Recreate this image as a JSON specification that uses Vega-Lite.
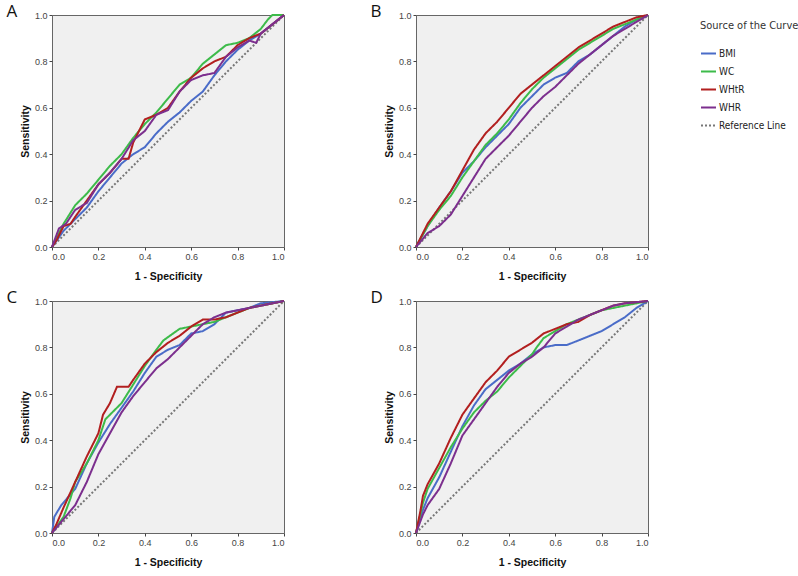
{
  "$schema": "https://vega.github.io/schema/vega-lite/v6.json",
  "padding": {"left": 5, "top": 2, "right": 0, "bottom": 2},
  "background": "white",
  "config": {
    "view": {"fill": "#f0f0f0", "stroke": "#666666", "strokeWidth": 1},
    "axis": {"grid": false, "domain": false, "tickColor": "#444", "tickSize": 3, "labelFont": "Liberation Sans", "labelFontSize": 9, "labelColor": "#444", "titleFont": "Liberation Sans", "titleFontSize": 10.5, "titleFontWeight": "bold", "titleColor": "#111"},
    "title": {"font": "Open Sans", "fontSize": 17, "fontWeight": "normal", "color": "#111", "anchor": "start", "frame": "bounds"},
    "legend": {"offset": 42, "padding": 5, "labelFont": "DejaVu Sans Condensed, Liberation Sans", "labelFontSize": 10, "labelColor": "#222", "titleFont": "DejaVu Sans Condensed, Liberation Sans", "titleFontSize": 11, "titleLimit": 200, "titleFontWeight": "normal", "titleColor": "#333", "symbolType": "stroke", "symbolSize": 225, "rowPadding": 4, "titlePadding": 14, "labelOffset": 2}
  },
  "datasets": {
    "roc": [
      {"p":"A","s":"Reference Line","x":0,"y":0},{"p":"A","s":"Reference Line","x":1,"y":1},
      {"p":"B","s":"Reference Line","x":0,"y":0},{"p":"B","s":"Reference Line","x":1,"y":1},
      {"p":"C","s":"Reference Line","x":0,"y":0},{"p":"C","s":"Reference Line","x":1,"y":1},
      {"p":"D","s":"Reference Line","x":0,"y":0},{"p":"D","s":"Reference Line","x":1,"y":1},

      {"p":"A","s":"BMI","x":0,"y":0},{"p":"A","s":"BMI","x":0.05,"y":0.07},{"p":"A","s":"BMI","x":0.1,"y":0.12},{"p":"A","s":"BMI","x":0.15,"y":0.17},{"p":"A","s":"BMI","x":0.2,"y":0.24},{"p":"A","s":"BMI","x":0.25,"y":0.3},{"p":"A","s":"BMI","x":0.3,"y":0.36},{"p":"A","s":"BMI","x":0.35,"y":0.4},{"p":"A","s":"BMI","x":0.4,"y":0.43},{"p":"A","s":"BMI","x":0.45,"y":0.49},{"p":"A","s":"BMI","x":0.5,"y":0.54},{"p":"A","s":"BMI","x":0.55,"y":0.58},{"p":"A","s":"BMI","x":0.6,"y":0.63},{"p":"A","s":"BMI","x":0.65,"y":0.67},{"p":"A","s":"BMI","x":0.7,"y":0.74},{"p":"A","s":"BMI","x":0.75,"y":0.8},{"p":"A","s":"BMI","x":0.8,"y":0.85},{"p":"A","s":"BMI","x":0.85,"y":0.89},{"p":"A","s":"BMI","x":0.9,"y":0.92},{"p":"A","s":"BMI","x":0.95,"y":0.96},{"p":"A","s":"BMI","x":1,"y":1},

      {"p":"A","s":"WC","x":0,"y":0},{"p":"A","s":"WC","x":0.05,"y":0.1},{"p":"A","s":"WC","x":0.1,"y":0.18},{"p":"A","s":"WC","x":0.15,"y":0.23},{"p":"A","s":"WC","x":0.2,"y":0.29},{"p":"A","s":"WC","x":0.25,"y":0.35},{"p":"A","s":"WC","x":0.3,"y":0.4},{"p":"A","s":"WC","x":0.35,"y":0.47},{"p":"A","s":"WC","x":0.4,"y":0.53},{"p":"A","s":"WC","x":0.45,"y":0.58},{"p":"A","s":"WC","x":0.5,"y":0.64},{"p":"A","s":"WC","x":0.55,"y":0.7},{"p":"A","s":"WC","x":0.6,"y":0.73},{"p":"A","s":"WC","x":0.65,"y":0.79},{"p":"A","s":"WC","x":0.7,"y":0.83},{"p":"A","s":"WC","x":0.75,"y":0.87},{"p":"A","s":"WC","x":0.8,"y":0.88},{"p":"A","s":"WC","x":0.85,"y":0.9},{"p":"A","s":"WC","x":0.9,"y":0.94},{"p":"A","s":"WC","x":0.93,"y":0.98},{"p":"A","s":"WC","x":0.95,"y":1},{"p":"A","s":"WC","x":1,"y":1},

      {"p":"A","s":"WHtR","x":0,"y":0},{"p":"A","s":"WHtR","x":0.02,"y":0.03},{"p":"A","s":"WHtR","x":0.05,"y":0.09},{"p":"A","s":"WHtR","x":0.08,"y":0.1},{"p":"A","s":"WHtR","x":0.1,"y":0.13},{"p":"A","s":"WHtR","x":0.15,"y":0.2},{"p":"A","s":"WHtR","x":0.2,"y":0.27},{"p":"A","s":"WHtR","x":0.25,"y":0.32},{"p":"A","s":"WHtR","x":0.3,"y":0.38},{"p":"A","s":"WHtR","x":0.33,"y":0.38},{"p":"A","s":"WHtR","x":0.35,"y":0.45},{"p":"A","s":"WHtR","x":0.4,"y":0.55},{"p":"A","s":"WHtR","x":0.45,"y":0.57},{"p":"A","s":"WHtR","x":0.5,"y":0.6},{"p":"A","s":"WHtR","x":0.55,"y":0.67},{"p":"A","s":"WHtR","x":0.6,"y":0.73},{"p":"A","s":"WHtR","x":0.65,"y":0.77},{"p":"A","s":"WHtR","x":0.7,"y":0.8},{"p":"A","s":"WHtR","x":0.75,"y":0.82},{"p":"A","s":"WHtR","x":0.8,"y":0.87},{"p":"A","s":"WHtR","x":0.85,"y":0.9},{"p":"A","s":"WHtR","x":0.9,"y":0.92},{"p":"A","s":"WHtR","x":0.95,"y":0.96},{"p":"A","s":"WHtR","x":1,"y":1},

      {"p":"A","s":"WHR","x":0,"y":0},{"p":"A","s":"WHR","x":0.03,"y":0.08},{"p":"A","s":"WHR","x":0.06,"y":0.1},{"p":"A","s":"WHR","x":0.1,"y":0.16},{"p":"A","s":"WHR","x":0.15,"y":0.19},{"p":"A","s":"WHR","x":0.2,"y":0.27},{"p":"A","s":"WHR","x":0.25,"y":0.32},{"p":"A","s":"WHR","x":0.3,"y":0.38},{"p":"A","s":"WHR","x":0.35,"y":0.46},{"p":"A","s":"WHR","x":0.4,"y":0.5},{"p":"A","s":"WHR","x":0.45,"y":0.57},{"p":"A","s":"WHR","x":0.5,"y":0.59},{"p":"A","s":"WHR","x":0.55,"y":0.67},{"p":"A","s":"WHR","x":0.6,"y":0.72},{"p":"A","s":"WHR","x":0.65,"y":0.74},{"p":"A","s":"WHR","x":0.7,"y":0.75},{"p":"A","s":"WHR","x":0.75,"y":0.82},{"p":"A","s":"WHR","x":0.8,"y":0.86},{"p":"A","s":"WHR","x":0.85,"y":0.89},{"p":"A","s":"WHR","x":0.88,"y":0.88},{"p":"A","s":"WHR","x":0.9,"y":0.92},{"p":"A","s":"WHR","x":0.95,"y":0.96},{"p":"A","s":"WHR","x":1,"y":1},

      {"p":"B","s":"BMI","x":0,"y":0},{"p":"B","s":"BMI","x":0.05,"y":0.09},{"p":"B","s":"BMI","x":0.1,"y":0.17},{"p":"B","s":"BMI","x":0.15,"y":0.24},{"p":"B","s":"BMI","x":0.2,"y":0.32},{"p":"B","s":"BMI","x":0.25,"y":0.37},{"p":"B","s":"BMI","x":0.3,"y":0.43},{"p":"B","s":"BMI","x":0.35,"y":0.48},{"p":"B","s":"BMI","x":0.4,"y":0.53},{"p":"B","s":"BMI","x":0.45,"y":0.6},{"p":"B","s":"BMI","x":0.5,"y":0.65},{"p":"B","s":"BMI","x":0.55,"y":0.7},{"p":"B","s":"BMI","x":0.6,"y":0.73},{"p":"B","s":"BMI","x":0.65,"y":0.75},{"p":"B","s":"BMI","x":0.7,"y":0.8},{"p":"B","s":"BMI","x":0.75,"y":0.83},{"p":"B","s":"BMI","x":0.8,"y":0.87},{"p":"B","s":"BMI","x":0.85,"y":0.91},{"p":"B","s":"BMI","x":0.9,"y":0.95},{"p":"B","s":"BMI","x":0.95,"y":0.98},{"p":"B","s":"BMI","x":1,"y":1},

      {"p":"B","s":"WC","x":0,"y":0},{"p":"B","s":"WC","x":0.05,"y":0.09},{"p":"B","s":"WC","x":0.1,"y":0.16},{"p":"B","s":"WC","x":0.15,"y":0.22},{"p":"B","s":"WC","x":0.2,"y":0.3},{"p":"B","s":"WC","x":0.25,"y":0.37},{"p":"B","s":"WC","x":0.3,"y":0.44},{"p":"B","s":"WC","x":0.35,"y":0.49},{"p":"B","s":"WC","x":0.4,"y":0.55},{"p":"B","s":"WC","x":0.45,"y":0.62},{"p":"B","s":"WC","x":0.5,"y":0.68},{"p":"B","s":"WC","x":0.55,"y":0.73},{"p":"B","s":"WC","x":0.6,"y":0.77},{"p":"B","s":"WC","x":0.65,"y":0.81},{"p":"B","s":"WC","x":0.7,"y":0.85},{"p":"B","s":"WC","x":0.75,"y":0.88},{"p":"B","s":"WC","x":0.8,"y":0.91},{"p":"B","s":"WC","x":0.85,"y":0.94},{"p":"B","s":"WC","x":0.9,"y":0.96},{"p":"B","s":"WC","x":0.95,"y":0.98},{"p":"B","s":"WC","x":1,"y":1},

      {"p":"B","s":"WHtR","x":0,"y":0},{"p":"B","s":"WHtR","x":0.05,"y":0.1},{"p":"B","s":"WHtR","x":0.1,"y":0.17},{"p":"B","s":"WHtR","x":0.15,"y":0.24},{"p":"B","s":"WHtR","x":0.2,"y":0.33},{"p":"B","s":"WHtR","x":0.25,"y":0.42},{"p":"B","s":"WHtR","x":0.3,"y":0.49},{"p":"B","s":"WHtR","x":0.35,"y":0.54},{"p":"B","s":"WHtR","x":0.4,"y":0.6},{"p":"B","s":"WHtR","x":0.45,"y":0.66},{"p":"B","s":"WHtR","x":0.5,"y":0.7},{"p":"B","s":"WHtR","x":0.55,"y":0.74},{"p":"B","s":"WHtR","x":0.6,"y":0.78},{"p":"B","s":"WHtR","x":0.65,"y":0.82},{"p":"B","s":"WHtR","x":0.7,"y":0.86},{"p":"B","s":"WHtR","x":0.75,"y":0.89},{"p":"B","s":"WHtR","x":0.8,"y":0.92},{"p":"B","s":"WHtR","x":0.85,"y":0.95},{"p":"B","s":"WHtR","x":0.9,"y":0.97},{"p":"B","s":"WHtR","x":0.95,"y":0.99},{"p":"B","s":"WHtR","x":1,"y":1},

      {"p":"B","s":"WHR","x":0,"y":0},{"p":"B","s":"WHR","x":0.05,"y":0.06},{"p":"B","s":"WHR","x":0.1,"y":0.09},{"p":"B","s":"WHR","x":0.15,"y":0.14},{"p":"B","s":"WHR","x":0.2,"y":0.22},{"p":"B","s":"WHR","x":0.25,"y":0.3},{"p":"B","s":"WHR","x":0.3,"y":0.38},{"p":"B","s":"WHR","x":0.35,"y":0.43},{"p":"B","s":"WHR","x":0.4,"y":0.48},{"p":"B","s":"WHR","x":0.45,"y":0.54},{"p":"B","s":"WHR","x":0.5,"y":0.6},{"p":"B","s":"WHR","x":0.55,"y":0.65},{"p":"B","s":"WHR","x":0.6,"y":0.69},{"p":"B","s":"WHR","x":0.65,"y":0.74},{"p":"B","s":"WHR","x":0.7,"y":0.79},{"p":"B","s":"WHR","x":0.75,"y":0.83},{"p":"B","s":"WHR","x":0.8,"y":0.87},{"p":"B","s":"WHR","x":0.85,"y":0.91},{"p":"B","s":"WHR","x":0.9,"y":0.94},{"p":"B","s":"WHR","x":0.95,"y":0.97},{"p":"B","s":"WHR","x":1,"y":1},

      {"p":"C","s":"BMI","x":0,"y":0},{"p":"C","s":"BMI","x":0.01,"y":0.07},{"p":"C","s":"BMI","x":0.04,"y":0.12},{"p":"C","s":"BMI","x":0.1,"y":0.19},{"p":"C","s":"BMI","x":0.15,"y":0.3},{"p":"C","s":"BMI","x":0.2,"y":0.39},{"p":"C","s":"BMI","x":0.25,"y":0.47},{"p":"C","s":"BMI","x":0.3,"y":0.54},{"p":"C","s":"BMI","x":0.35,"y":0.61},{"p":"C","s":"BMI","x":0.4,"y":0.69},{"p":"C","s":"BMI","x":0.45,"y":0.76},{"p":"C","s":"BMI","x":0.5,"y":0.79},{"p":"C","s":"BMI","x":0.55,"y":0.81},{"p":"C","s":"BMI","x":0.6,"y":0.86},{"p":"C","s":"BMI","x":0.65,"y":0.87},{"p":"C","s":"BMI","x":0.7,"y":0.9},{"p":"C","s":"BMI","x":0.75,"y":0.95},{"p":"C","s":"BMI","x":0.8,"y":0.96},{"p":"C","s":"BMI","x":0.85,"y":0.97},{"p":"C","s":"BMI","x":0.9,"y":0.99},{"p":"C","s":"BMI","x":1,"y":1},

      {"p":"C","s":"WC","x":0,"y":0},{"p":"C","s":"WC","x":0.05,"y":0.07},{"p":"C","s":"WC","x":0.08,"y":0.15},{"p":"C","s":"WC","x":0.1,"y":0.22},{"p":"C","s":"WC","x":0.15,"y":0.3},{"p":"C","s":"WC","x":0.2,"y":0.4},{"p":"C","s":"WC","x":0.23,"y":0.49},{"p":"C","s":"WC","x":0.3,"y":0.56},{"p":"C","s":"WC","x":0.35,"y":0.64},{"p":"C","s":"WC","x":0.4,"y":0.72},{"p":"C","s":"WC","x":0.45,"y":0.79},{"p":"C","s":"WC","x":0.48,"y":0.83},{"p":"C","s":"WC","x":0.55,"y":0.88},{"p":"C","s":"WC","x":0.6,"y":0.89},{"p":"C","s":"WC","x":0.65,"y":0.9},{"p":"C","s":"WC","x":0.7,"y":0.91},{"p":"C","s":"WC","x":0.75,"y":0.93},{"p":"C","s":"WC","x":0.8,"y":0.95},{"p":"C","s":"WC","x":0.85,"y":0.97},{"p":"C","s":"WC","x":0.9,"y":0.98},{"p":"C","s":"WC","x":1,"y":1},

      {"p":"C","s":"WHtR","x":0,"y":0},{"p":"C","s":"WHtR","x":0.02,"y":0.04},{"p":"C","s":"WHtR","x":0.05,"y":0.11},{"p":"C","s":"WHtR","x":0.1,"y":0.22},{"p":"C","s":"WHtR","x":0.15,"y":0.33},{"p":"C","s":"WHtR","x":0.2,"y":0.43},{"p":"C","s":"WHtR","x":0.22,"y":0.51},{"p":"C","s":"WHtR","x":0.25,"y":0.56},{"p":"C","s":"WHtR","x":0.28,"y":0.63},{"p":"C","s":"WHtR","x":0.33,"y":0.63},{"p":"C","s":"WHtR","x":0.35,"y":0.66},{"p":"C","s":"WHtR","x":0.4,"y":0.73},{"p":"C","s":"WHtR","x":0.45,"y":0.78},{"p":"C","s":"WHtR","x":0.5,"y":0.82},{"p":"C","s":"WHtR","x":0.55,"y":0.85},{"p":"C","s":"WHtR","x":0.6,"y":0.89},{"p":"C","s":"WHtR","x":0.65,"y":0.92},{"p":"C","s":"WHtR","x":0.7,"y":0.92},{"p":"C","s":"WHtR","x":0.75,"y":0.93},{"p":"C","s":"WHtR","x":0.8,"y":0.95},{"p":"C","s":"WHtR","x":0.85,"y":0.97},{"p":"C","s":"WHtR","x":0.9,"y":0.98},{"p":"C","s":"WHtR","x":0.95,"y":0.99},{"p":"C","s":"WHtR","x":1,"y":1},

      {"p":"C","s":"WHR","x":0,"y":0},{"p":"C","s":"WHR","x":0.05,"y":0.06},{"p":"C","s":"WHR","x":0.1,"y":0.12},{"p":"C","s":"WHR","x":0.15,"y":0.22},{"p":"C","s":"WHR","x":0.2,"y":0.34},{"p":"C","s":"WHR","x":0.25,"y":0.43},{"p":"C","s":"WHR","x":0.3,"y":0.52},{"p":"C","s":"WHR","x":0.35,"y":0.59},{"p":"C","s":"WHR","x":0.4,"y":0.65},{"p":"C","s":"WHR","x":0.45,"y":0.71},{"p":"C","s":"WHR","x":0.5,"y":0.75},{"p":"C","s":"WHR","x":0.55,"y":0.8},{"p":"C","s":"WHR","x":0.6,"y":0.85},{"p":"C","s":"WHR","x":0.65,"y":0.9},{"p":"C","s":"WHR","x":0.7,"y":0.93},{"p":"C","s":"WHR","x":0.75,"y":0.95},{"p":"C","s":"WHR","x":0.8,"y":0.96},{"p":"C","s":"WHR","x":0.85,"y":0.97},{"p":"C","s":"WHR","x":0.9,"y":0.98},{"p":"C","s":"WHR","x":1,"y":1},

      {"p":"D","s":"BMI","x":0,"y":0},{"p":"D","s":"BMI","x":0.03,"y":0.1},{"p":"D","s":"BMI","x":0.05,"y":0.15},{"p":"D","s":"BMI","x":0.1,"y":0.24},{"p":"D","s":"BMI","x":0.15,"y":0.35},{"p":"D","s":"BMI","x":0.2,"y":0.46},{"p":"D","s":"BMI","x":0.25,"y":0.55},{"p":"D","s":"BMI","x":0.3,"y":0.62},{"p":"D","s":"BMI","x":0.35,"y":0.66},{"p":"D","s":"BMI","x":0.4,"y":0.7},{"p":"D","s":"BMI","x":0.45,"y":0.73},{"p":"D","s":"BMI","x":0.5,"y":0.77},{"p":"D","s":"BMI","x":0.55,"y":0.8},{"p":"D","s":"BMI","x":0.6,"y":0.81},{"p":"D","s":"BMI","x":0.65,"y":0.81},{"p":"D","s":"BMI","x":0.7,"y":0.83},{"p":"D","s":"BMI","x":0.75,"y":0.85},{"p":"D","s":"BMI","x":0.8,"y":0.87},{"p":"D","s":"BMI","x":0.85,"y":0.9},{"p":"D","s":"BMI","x":0.9,"y":0.93},{"p":"D","s":"BMI","x":0.95,"y":0.97},{"p":"D","s":"BMI","x":1,"y":1},

      {"p":"D","s":"WC","x":0,"y":0},{"p":"D","s":"WC","x":0.03,"y":0.13},{"p":"D","s":"WC","x":0.05,"y":0.19},{"p":"D","s":"WC","x":0.1,"y":0.28},{"p":"D","s":"WC","x":0.15,"y":0.37},{"p":"D","s":"WC","x":0.2,"y":0.45},{"p":"D","s":"WC","x":0.25,"y":0.52},{"p":"D","s":"WC","x":0.3,"y":0.57},{"p":"D","s":"WC","x":0.35,"y":0.61},{"p":"D","s":"WC","x":0.4,"y":0.67},{"p":"D","s":"WC","x":0.45,"y":0.72},{"p":"D","s":"WC","x":0.5,"y":0.77},{"p":"D","s":"WC","x":0.52,"y":0.8},{"p":"D","s":"WC","x":0.55,"y":0.84},{"p":"D","s":"WC","x":0.6,"y":0.87},{"p":"D","s":"WC","x":0.65,"y":0.9},{"p":"D","s":"WC","x":0.7,"y":0.92},{"p":"D","s":"WC","x":0.75,"y":0.94},{"p":"D","s":"WC","x":0.8,"y":0.96},{"p":"D","s":"WC","x":0.85,"y":0.97},{"p":"D","s":"WC","x":0.9,"y":0.98},{"p":"D","s":"WC","x":1,"y":1},

      {"p":"D","s":"WHtR","x":0,"y":0},{"p":"D","s":"WHtR","x":0.02,"y":0.1},{"p":"D","s":"WHtR","x":0.03,"y":0.16},{"p":"D","s":"WHtR","x":0.05,"y":0.21},{"p":"D","s":"WHtR","x":0.1,"y":0.3},{"p":"D","s":"WHtR","x":0.15,"y":0.41},{"p":"D","s":"WHtR","x":0.2,"y":0.51},{"p":"D","s":"WHtR","x":0.25,"y":0.58},{"p":"D","s":"WHtR","x":0.3,"y":0.65},{"p":"D","s":"WHtR","x":0.35,"y":0.7},{"p":"D","s":"WHtR","x":0.4,"y":0.76},{"p":"D","s":"WHtR","x":0.45,"y":0.79},{"p":"D","s":"WHtR","x":0.5,"y":0.82},{"p":"D","s":"WHtR","x":0.55,"y":0.86},{"p":"D","s":"WHtR","x":0.6,"y":0.88},{"p":"D","s":"WHtR","x":0.65,"y":0.9},{"p":"D","s":"WHtR","x":0.7,"y":0.91},{"p":"D","s":"WHtR","x":0.75,"y":0.94},{"p":"D","s":"WHtR","x":0.8,"y":0.96},{"p":"D","s":"WHtR","x":0.85,"y":0.98},{"p":"D","s":"WHtR","x":0.9,"y":0.99},{"p":"D","s":"WHtR","x":1,"y":1},

      {"p":"D","s":"WHR","x":0,"y":0},{"p":"D","s":"WHR","x":0.03,"y":0.08},{"p":"D","s":"WHR","x":0.05,"y":0.12},{"p":"D","s":"WHR","x":0.1,"y":0.19},{"p":"D","s":"WHR","x":0.15,"y":0.3},{"p":"D","s":"WHR","x":0.2,"y":0.42},{"p":"D","s":"WHR","x":0.25,"y":0.49},{"p":"D","s":"WHR","x":0.3,"y":0.56},{"p":"D","s":"WHR","x":0.35,"y":0.63},{"p":"D","s":"WHR","x":0.4,"y":0.69},{"p":"D","s":"WHR","x":0.45,"y":0.73},{"p":"D","s":"WHR","x":0.5,"y":0.76},{"p":"D","s":"WHR","x":0.55,"y":0.8},{"p":"D","s":"WHR","x":0.6,"y":0.86},{"p":"D","s":"WHR","x":0.65,"y":0.89},{"p":"D","s":"WHR","x":0.7,"y":0.92},{"p":"D","s":"WHR","x":0.75,"y":0.94},{"p":"D","s":"WHR","x":0.8,"y":0.96},{"p":"D","s":"WHR","x":0.85,"y":0.98},{"p":"D","s":"WHR","x":0.9,"y":0.99},{"p":"D","s":"WHR","x":1,"y":1}
    ]
  },
  "data": {"name": "roc"},
  "columns": 2,
  "spacing": {"row": 6, "column": 80},
  "concat": [
    {"title": {"text": "A", "dx": -14, "dy": 14}, "width": 232, "height": 232, "transform": [{"filter": "datum.p === 'A'"}], "mark": {"type": "line"},
     "encoding": {
       "x": {"field": "x", "type": "quantitative", "scale": {"domain": [0, 1], "nice": false}, "axis": {"values": [0, 0.2, 0.4, 0.6, 0.8, 1], "format": ".1f", "title": "1 - Specificity", "titlePadding": 10}},
       "y": {"field": "y", "type": "quantitative", "scale": {"domain": [0, 1], "nice": false}, "axis": {"values": [0, 0.2, 0.4, 0.6, 0.8, 1], "format": ".1f", "title": "Sensitivity", "titlePadding": 4}},
       "color": {"field": "s", "type": "nominal", "scale": {"domain": ["BMI", "WC", "WHtR", "WHR", "Reference Line"], "range": ["#4a6cc8", "#3dbb4a", "#b21f1f", "#7c2f8e", "#777777"]}, "legend": {"title": "Source of the Curve"}},
       "strokeDash": {"field": "s", "type": "nominal", "scale": {"domain": ["BMI", "WC", "WHtR", "WHR", "Reference Line"], "range": [[1, 0], [1, 0], [1, 0], [1, 0], [2, 2]]}, "legend": {"title": "Source of the Curve"}},
       "strokeWidth": {"field": "s", "type": "nominal", "scale": {"domain": ["BMI", "WC", "WHtR", "WHR", "Reference Line"], "range": [2, 2, 2, 2, 1.2]}, "legend": {"title": "Source of the Curve"}}
     }},
    {"title": {"text": "B", "dx": -14, "dy": 14}, "width": 232, "height": 232, "transform": [{"filter": "datum.p === 'B'"}], "mark": {"type": "line"},
     "encoding": {
       "x": {"field": "x", "type": "quantitative", "scale": {"domain": [0, 1], "nice": false}, "axis": {"values": [0, 0.2, 0.4, 0.6, 0.8, 1], "format": ".1f", "title": "1 - Specificity", "titlePadding": 10}},
       "y": {"field": "y", "type": "quantitative", "scale": {"domain": [0, 1], "nice": false}, "axis": {"values": [0, 0.2, 0.4, 0.6, 0.8, 1], "format": ".1f", "title": "Sensitivity", "titlePadding": 4}},
       "color": {"field": "s", "type": "nominal", "scale": {"domain": ["BMI", "WC", "WHtR", "WHR", "Reference Line"], "range": ["#4a6cc8", "#3dbb4a", "#b21f1f", "#7c2f8e", "#777777"]}, "legend": {"title": "Source of the Curve"}},
       "strokeDash": {"field": "s", "type": "nominal", "scale": {"domain": ["BMI", "WC", "WHtR", "WHR", "Reference Line"], "range": [[1, 0], [1, 0], [1, 0], [1, 0], [2, 2]]}, "legend": {"title": "Source of the Curve"}},
       "strokeWidth": {"field": "s", "type": "nominal", "scale": {"domain": ["BMI", "WC", "WHtR", "WHR", "Reference Line"], "range": [2, 2, 2, 2, 1.2]}, "legend": {"title": "Source of the Curve"}}
     }},
    {"title": {"text": "C", "dx": -14, "dy": 14}, "width": 232, "height": 232, "transform": [{"filter": "datum.p === 'C'"}], "mark": {"type": "line"},
     "encoding": {
       "x": {"field": "x", "type": "quantitative", "scale": {"domain": [0, 1], "nice": false}, "axis": {"values": [0, 0.2, 0.4, 0.6, 0.8, 1], "format": ".1f", "title": "1 - Specificity", "titlePadding": 10}},
       "y": {"field": "y", "type": "quantitative", "scale": {"domain": [0, 1], "nice": false}, "axis": {"values": [0, 0.2, 0.4, 0.6, 0.8, 1], "format": ".1f", "title": "Sensitivity", "titlePadding": 4}},
       "color": {"field": "s", "type": "nominal", "scale": {"domain": ["BMI", "WC", "WHtR", "WHR", "Reference Line"], "range": ["#4a6cc8", "#3dbb4a", "#b21f1f", "#7c2f8e", "#777777"]}, "legend": {"title": "Source of the Curve"}},
       "strokeDash": {"field": "s", "type": "nominal", "scale": {"domain": ["BMI", "WC", "WHtR", "WHR", "Reference Line"], "range": [[1, 0], [1, 0], [1, 0], [1, 0], [2, 2]]}, "legend": {"title": "Source of the Curve"}},
       "strokeWidth": {"field": "s", "type": "nominal", "scale": {"domain": ["BMI", "WC", "WHtR", "WHR", "Reference Line"], "range": [2, 2, 2, 2, 1.2]}, "legend": {"title": "Source of the Curve"}}
     }},
    {"title": {"text": "D", "dx": -14, "dy": 14}, "width": 232, "height": 232, "transform": [{"filter": "datum.p === 'D'"}], "mark": {"type": "line"},
     "encoding": {
       "x": {"field": "x", "type": "quantitative", "scale": {"domain": [0, 1], "nice": false}, "axis": {"values": [0, 0.2, 0.4, 0.6, 0.8, 1], "format": ".1f", "title": "1 - Specificity", "titlePadding": 10}},
       "y": {"field": "y", "type": "quantitative", "scale": {"domain": [0, 1], "nice": false}, "axis": {"values": [0, 0.2, 0.4, 0.6, 0.8, 1], "format": ".1f", "title": "Sensitivity", "titlePadding": 4}},
       "color": {"field": "s", "type": "nominal", "scale": {"domain": ["BMI", "WC", "WHtR", "WHR", "Reference Line"], "range": ["#4a6cc8", "#3dbb4a", "#b21f1f", "#7c2f8e", "#777777"]}, "legend": {"title": "Source of the Curve"}},
       "strokeDash": {"field": "s", "type": "nominal", "scale": {"domain": ["BMI", "WC", "WHtR", "WHR", "Reference Line"], "range": [[1, 0], [1, 0], [1, 0], [1, 0], [2, 2]]}, "legend": {"title": "Source of the Curve"}},
       "strokeWidth": {"field": "s", "type": "nominal", "scale": {"domain": ["BMI", "WC", "WHtR", "WHR", "Reference Line"], "range": [2, 2, 2, 2, 1.2]}, "legend": {"title": "Source of the Curve"}}
     }}
  ],
  "resolve": {"scale": {"color": "shared", "strokeDash": "shared", "strokeWidth": "shared"}}
}
